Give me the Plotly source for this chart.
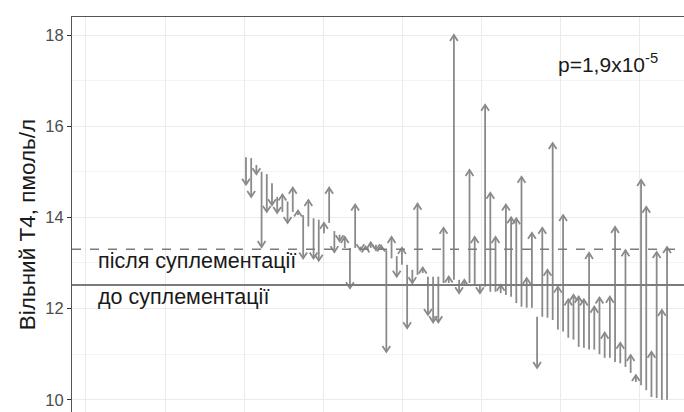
import plotly.graph_objects as go

# Free T4 (pmol/L) per participant, ordered left to right
t4_before = [15.32, 15.30, 15.15, 15.00, 14.95, 14.75, 14.45, 14.12, 14.35, 14.12,
             14.05, 14.05, 13.80, 13.98, 13.95, 13.65, 13.88, 13.70, 13.62, 13.33,
             13.33, 13.33, 13.36, 13.30, 13.33, 13.40, 13.30, 13.28, 13.10, 13.15,
             12.96, 12.96, 12.85, 12.74, 12.78, 12.70, 12.70, 12.70, 12.56, 12.56,
             12.63, 12.63, 12.52, 12.56, 12.52, 12.52, 12.48, 12.37, 12.37, 12.34,
             12.30, 12.26, 12.12, 12.04, 12.02, 12.02, 11.82, 11.82, 11.80, 11.75,
             11.54, 11.50, 11.36, 11.32, 11.16, 11.14, 11.10, 11.10, 11.00, 10.92,
             10.92, 10.83, 10.80, 10.72, 10.59, 10.39, 10.32, 10.21, 10.06, 10.04,
             10.00, 10.00]
t4_after = [14.72, 14.45, 14.95, 13.35, 14.12, 14.27, 14.10, 14.50, 13.88, 14.65,
            14.15, 13.10, 14.38, 13.10, 13.05, 13.88, 14.65, 13.24, 13.48, 13.57,
            12.45, 14.28, 13.28, 13.36, 13.45, 13.28, 13.38, 11.05, 13.57, 12.70,
            13.33, 11.57, 12.56, 14.30, 12.90, 11.86, 11.70, 11.70, 13.77, 12.70,
            18.00, 12.34, 12.63, 15.04, 13.57, 12.34, 16.47, 14.54, 13.57, 12.52,
            14.28, 14.00, 13.98, 14.89, 12.67, 13.66, 10.70, 13.77, 12.85, 15.63,
            12.48, 14.05, 12.20, 12.30, 12.26, 12.20, 13.22, 12.04, 12.24, 11.47,
            12.26, 13.79, 11.25, 13.28, 10.98, 10.54, 14.82, 14.23, 11.05, 13.24,
            11.97, 13.35]
participant = list(range(1, len(t4_before) + 1))

# group means
mean_before = 12.52
mean_after = 13.30

y_ticks = [10, 12, 14, 16, 18]
label_before = "до суплементації"
label_after = "після суплементації"
p_text = "p=1,9x10<sup>-5</sup>"
y_title = "Вільний Т4, пмоль/л"

ARROW = "#8a8a8a"
MEAN = "#7c7c7c"
FONT = "Liberation Sans, Arial, sans-serif"

x_range = [-32.47, 85.26]
y_range = [9.732, 18.395]

# open arrowhead size in axis units (half-width along x, length along y)
head_w = 0.75
head_l = 0.13

shaft_x, shaft_y, head_x, head_y = [], [], [], []
for xi, b, a in zip(participant, t4_before, t4_after):
    shaft_x += [xi, xi, None]
    shaft_y += [b, a, None]
    d = 1 if a >= b else -1
    head_x += [xi - head_w, xi, xi + head_w, None]
    head_y += [a - d * head_l, a, a - d * head_l, None]

fig = go.Figure()
fig.add_trace(go.Scatter(x=shaft_x, y=shaft_y, mode="lines",
                         line=dict(color=ARROW, width=1.8), hoverinfo="skip"))
fig.add_trace(go.Scatter(x=head_x, y=head_y, mode="lines",
                         line=dict(color=ARROW, width=1.8), hoverinfo="skip"))

fig.add_hline(y=mean_before, line=dict(color=MEAN, width=2))
fig.add_hline(y=mean_after, line=dict(color=MEAN, width=1.5, dash="dash"))

fig.add_annotation(text=label_after, xref="paper", x=24 / 612, xanchor="left",
                   yref="y", y=mean_after, yanchor="top", yshift=2,
                   showarrow=False, font=dict(family=FONT, size=21.5, color="#1a1a1a"))
fig.add_annotation(text=label_before, xref="paper", x=24 / 612, xanchor="left",
                   yref="y", y=mean_before, yanchor="top", yshift=2,
                   showarrow=False, font=dict(family=FONT, size=21.5, color="#1a1a1a"))
fig.add_annotation(text=p_text, xref="paper", x=484 / 612, xanchor="left",
                   yref="paper", y=1 - 46 / 395, yanchor="middle",
                   showarrow=False, font=dict(family=FONT, size=21, color="#1a1a1a"))
fig.add_annotation(text=y_title, xref="paper", x=0, xshift=-45, xanchor="center",
                   yref="paper", y=0.473, yanchor="middle", textangle=-90,
                   showarrow=False, font=dict(family=FONT, size=22.5, color="#1a1a1a"))

fig.update_layout(
    width=684, height=412,
    margin=dict(l=72, r=0, t=17, b=0, pad=0),
    plot_bgcolor="white", paper_bgcolor="white",
    showlegend=False,
    font=dict(family=FONT),
    xaxis=dict(range=x_range, side="top", showline=True, linecolor="#555555",
               linewidth=1, showticklabels=False, ticks="", zeroline=False,
               showgrid=True, gridcolor="#ebebeb", gridwidth=1.2,
               tick0=-29.78, dtick=15.22),
    yaxis=dict(range=y_range, showline=True, linecolor="#555555", linewidth=1,
               tickvals=y_ticks, ticks="outside", ticklen=4, tickcolor="#333333",
               tickfont=dict(size=16.5, color="#4d4d4d"), zeroline=False,
               showgrid=True, gridcolor="#ebebeb", gridwidth=1.2,
               minor=dict(dtick=1, tick0=0, showgrid=True, gridcolor="#f3f3f3",
                          gridwidth=1)),
)

fig.write_html("out.html")
